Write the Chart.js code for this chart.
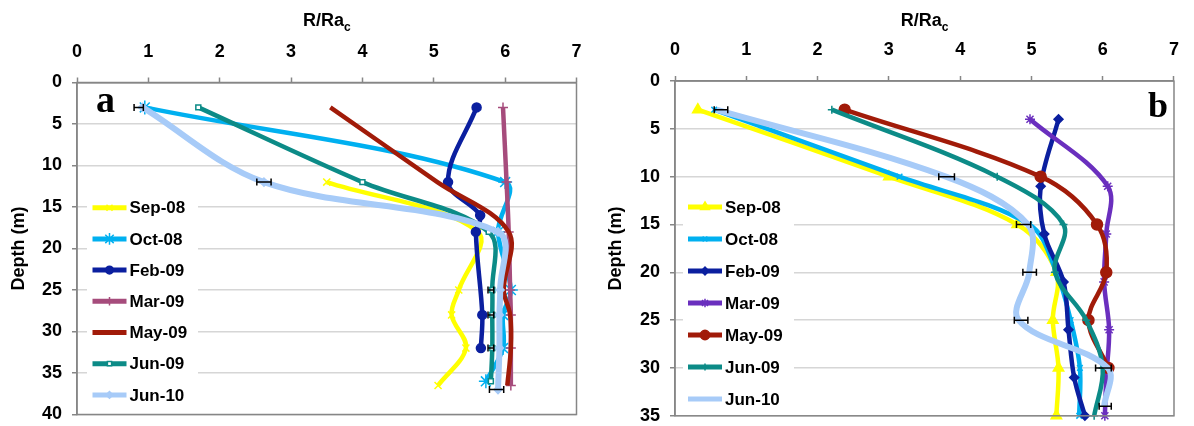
<!DOCTYPE html>
<html>
<head>
<meta charset="utf-8">
<script src="https://cdn.jsdelivr.net/npm/chart.js@4.4.1/dist/chart.umd.min.js"></script>
<style>
  body { margin: 0; background: #fff; }
  #wrap { display: flex; width: 1194px; height: 426px; }
  .panel { position: relative; width: 597px; height: 426px; }
</style>
</head>
<body>
<div id="wrap">
  <div class="panel"><canvas id="chartA"></canvas></div>
  <div class="panel"><canvas id="chartB"></canvas></div>
</div>
<script>
// survey labels, shared by both panels
const seriesNames = ['Sep-08', 'Oct-08', 'Feb-09', 'Mar-09', 'May-09', 'Jun-09', 'Jun-10'];

// panel a : [R/Ra_c, depth m]
const sep08A = [[3.5, 12], [5.62, 18], [5.35, 25], [5.25, 28], [5.45, 32], [5.06, 36.5]];
const oct08A = [[0.95, 3], [6.0, 12], [5.9, 18], [6.08, 25], [5.97, 28], [5.97, 32], [5.73, 36]];
const feb09A = [[5.6, 3], [5.2, 12], [5.65, 16], [5.59, 18], [5.68, 28], [5.66, 32]];
const mar09A = [[5.97, 3], [6.02, 12], [6.05, 18], [6.07, 25], [6.08, 28], [6.08, 32], [6.08, 36.5]];
const may09A = [[3.55, 3], [5.05, 12], [6.05, 18], [5.98, 25], [6.07, 28], [6.08, 32], [6.03, 36.5]];
const jun09A = [[1.7, 3], [4.0, 12], [5.77, 18], [5.82, 25], [5.82, 28], [5.82, 32], [5.8, 36]];
const jun10A = [[0.92, 3], [2.62, 12], [5.9, 18], [5.93, 25], [5.92, 28], [5.92, 32], [5.9, 37]];

// panel b : [R/Ra_c, depth m]
const sep08B = [[0.32, 3], [3.0, 10], [4.8, 15], [5.35, 20], [5.3, 25], [5.38, 30], [5.35, 35]];
const oct08B = [[0.55, 3], [3.15, 10], [4.97, 15], [5.35, 20], [5.55, 25], [5.68, 30], [5.67, 35]];
const feb09B = [[5.38, 4], [5.13, 11], [5.18, 16], [5.45, 21], [5.52, 26], [5.6, 31], [5.75, 35]];
const mar09B = [[4.98, 4], [6.07, 11], [6.05, 16], [6.02, 21], [6.09, 26], [6.05, 31], [6.03, 35]];
const may09B = [[2.38, 3], [5.13, 10], [5.92, 15], [6.05, 20], [5.8, 25], [6.08, 30]];
const jun09B = [[2.2, 3], [4.52, 10], [5.45, 15], [5.33, 20], [5.77, 25], [6.0, 30], [5.88, 35]];
const jun10B = [[0.58, 3], [3.8, 10], [4.95, 15], [4.97, 20], [4.82, 25], [6.07, 30], [6.02, 34]];

// error bars : [low, high, depth]
const errA = [[0.8, 0.93, 3], [2.52, 2.72, 12], [5.76, 5.84, 25], [5.76, 5.84, 28], [5.76, 5.84, 32], [5.78, 5.98, 37]];
const errB = [[0.55, 0.74, 3], [3.7, 3.92, 10], [4.79, 4.99, 15], [4.88, 5.07, 20], [4.76, 4.95, 25], [5.9, 6.12, 30], [5.95, 6.12, 34]];

const ratioMin = 0, ratioMax = 7;
const depthMaxA = 40, depthMaxB = 35;

const colorsA = ['#ffff00', '#00b0f0', '#0b1f9f', '#a64c7c', '#a11b09', '#0c8b87', '#a7cbf8'];
const colorsB = ['#ffff00', '#00b0f0', '#0b1f9f', '#6a2fbe', '#a11b09', '#0c8b87', '#a7cbf8'];

const markersA = [
  { style: 'crossRot', r: 5 }, { style: 'star', r: 7 }, { style: 'circle', r: 4.5 },
  { style: 'cross', r: 5 }, { style: false, r: 0 }, { style: 'rect', r: 3.5 }, { style: 'rectRot', r: 4 }
];
const markersB = [
  { style: 'triangle', r: 6 }, { style: 'crossRot', r: 4 }, { style: 'rectRot', r: 4.5 },
  { style: 'star', r: 5 }, { style: 'circle', r: 5.5 }, { style: 'cross', r: 4 }, { style: false, r: 0 }
];

const FONT = "'Liberation Sans', Arial, sans-serif";

function makeDatasets(series, colors, markers) {
  return series.map((pts, i) => ({
    label: seriesNames[i],
    data: pts.map(p => ({ x: p[0], y: p[1] })),
    showLine: true,
    borderColor: colors[i],
    backgroundColor: colors[i],
    borderWidth: i === 6 ? 6 : 4.5,
    tension: 0.35,
    pointStyle: markers[i].style,
    pointRadius: markers[i].r,
    pointHoverRadius: markers[i].r,
    pointBorderWidth: 1.5,
    pointBorderColor: colors[i],
    pointBackgroundColor: markers[i].style === 'rect' ? '#ffffff' : colors[i],
    clip: false,
    order: series.length - i
  }));
}

// white legend box under the entries, then lines/markers/text on top
const insideLegend = {
  id: 'insideLegend',
  beforeDatasetsDraw(chart, args, o) {
    const ctx = chart.ctx;
    ctx.save();
    ctx.fillStyle = '#ffffff';
    ctx.fillRect(o.box[0], o.box[1], o.box[2], o.box[3]);
    ctx.restore();
  },
  afterDatasetsDraw(chart, args, o) {
    const ctx = chart.ctx;
    ctx.save();
    chart.data.datasets.forEach((ds, i) => {
      const y = o.y + i * o.gap;
      ctx.strokeStyle = ds.borderColor;
      ctx.lineWidth = 5;
      ctx.beginPath();
      ctx.moveTo(o.x, y);
      ctx.lineTo(o.x + o.len, y);
      ctx.stroke();
      if (ds.pointStyle) {
        ctx.fillStyle = ds.pointBackgroundColor;
        ctx.strokeStyle = ds.borderColor;
        ctx.lineWidth = 1.5;
        Chart.helpers.drawPoint(ctx, { pointStyle: ds.pointStyle, radius: ds.pointRadius * 0.85, rotation: 0, borderWidth: 1.5 }, o.x + o.len / 2, y);
      }
      ctx.fillStyle = '#000';
      ctx.font = 'bold 17px ' + FONT;
      ctx.textBaseline = 'middle';
      ctx.textAlign = 'left';
      ctx.fillText(ds.label, o.x + o.len + 3, y + 1);
    });
    ctx.restore();
  }
};

// horizontal error bars with end caps
const errorBars = {
  id: 'errorBars',
  afterDatasetsDraw(chart, args, o) {
    const { ctx, scales: { x, y } } = chart;
    ctx.save();
    ctx.strokeStyle = '#000';
    ctx.lineWidth = 1.5;
    o.bars.forEach(([lo, hi, d]) => {
      const x0 = x.getPixelForValue(lo), x1 = x.getPixelForValue(hi), yy = y.getPixelForValue(d);
      ctx.beginPath();
      ctx.moveTo(x0, yy); ctx.lineTo(x1, yy);
      ctx.moveTo(x0, yy - 3.5); ctx.lineTo(x0, yy + 3.5);
      ctx.moveTo(x1, yy - 3.5); ctx.lineTo(x1, yy + 3.5);
      ctx.stroke();
    });
    ctx.restore();
  }
};

// plot frame, axis title with subscript, panel letter
const frameAndLabels = {
  id: 'frameAndLabels',
  afterDraw(chart, args, o) {
    const { ctx, chartArea: a } = chart;
    ctx.save();
    ctx.strokeStyle = '#868686';
    ctx.lineWidth = 1.5;
    ctx.strokeRect(a.left, a.top, a.right - a.left, a.bottom - a.top);

    ctx.fillStyle = '#000';
    ctx.textBaseline = 'alphabetic';
    ctx.font = 'bold 18px ' + FONT;
    const main = 'R/Ra';
    const wMain = ctx.measureText(main).width;
    ctx.font = 'bold 12px ' + FONT;
    const wSub = ctx.measureText('c').width;
    const cx = (a.left + a.right) / 2;
    const x0 = cx - (wMain + wSub) / 2;
    ctx.font = 'bold 18px ' + FONT;
    ctx.textAlign = 'left';
    ctx.fillText(main, x0, o.titleY);
    ctx.font = 'bold 12px ' + FONT;
    ctx.fillText('c', x0 + wMain, o.titleY + 5);

    ctx.font = 'bold ' + o.letterSize + "px 'Liberation Serif', 'Times New Roman', serif";
    ctx.fillText(o.letter, o.letterX, o.letterY);
    ctx.restore();
  }
};

function makeChart(id, series, colors, markers, depthMax, geo) {
  return new Chart(document.getElementById(id), {
    type: 'scatter',
    data: { datasets: makeDatasets(series, colors, markers) },
    plugins: [insideLegend, errorBars, frameAndLabels],
    options: {
      responsive: true,
      maintainAspectRatio: false,
      animation: false,
      events: [],
      layout: { padding: { left: 0, top: 0, right: geo.right, bottom: geo.bottom } },
      elements: { line: { capBezierPoints: false } },
      plugins: {
        legend: { display: false },
        tooltip: { enabled: false },
        insideLegend: geo.legend,
        errorBars: { bars: geo.err },
        frameAndLabels: geo.labels
      },
      scales: {
        x: {
          position: 'top',
          min: ratioMin,
          max: ratioMax,
          afterFit: s => { s.height = geo.top; },
          ticks: { stepSize: 1, color: '#000', padding: 15, font: { family: FONT, size: 18, weight: 'bold' } },
          grid: { drawOnChartArea: false, drawTicks: true, tickLength: 5, tickColor: '#868686', tickWidth: 1.5 },
          border: { display: true, color: '#868686', width: 1.5 }
        },
        y: {
          reverse: true,
          min: 0,
          max: depthMax,
          // fixed axis width; drop the label overhang so the plot reaches the set bottom padding
          afterFit: s => { s.width = geo.left; s.paddingTop = 0; s.paddingBottom = 0; },
          ticks: { stepSize: 5, color: '#000', padding: 10, font: { family: FONT, size: 18, weight: 'bold' } },
          grid: { color: '#d6d6d6', lineWidth: 1.5, tickLength: 5, tickColor: '#868686', tickWidth: 1.5 },
          border: { display: true, color: '#868686', width: 1.5 },
          title: { display: true, text: 'Depth (m)', color: '#000', padding: { top: 8, bottom: 0 }, font: { family: FONT, size: 18, weight: 'bold' } }
        }
      }
    }
  });
}

makeChart('chartA', [sep08A, oct08A, feb09A, mar09A, may09A, jun09A, jun10A], colorsA, markersA, depthMaxA, {
  left: 77, top: 82.5, right: 20.5, bottom: 11.5,
  err: errA,
  legend: { x: 92.5, y: 207.7, gap: 31.2, len: 34, box: [87, 193, 111, 218] },
  labels: { titleY: 26, letter: 'a', letterX: 96, letterY: 112, letterSize: 38 }
});

makeChart('chartB', [sep08B, oct08B, feb09B, mar09B, may09B, jun09B, jun10B], colorsB, markersB, depthMaxB, {
  left: 78, top: 81, right: 12.3, bottom: 10.2,
  err: errB,
  legend: { x: 91, y: 207, gap: 32, len: 34, box: [86, 192, 111, 222] },
  labels: { titleY: 26, letter: 'b', letterX: 551, letterY: 117, letterSize: 36 }
});
</script>
</body>
</html>
